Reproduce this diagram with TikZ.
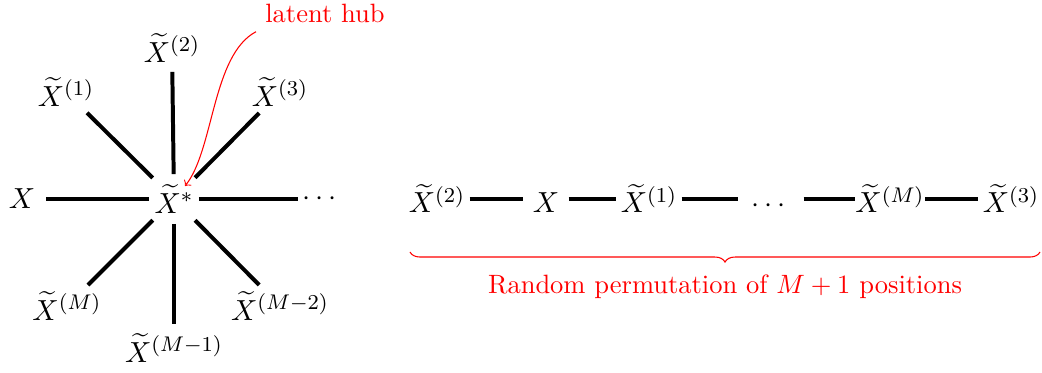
\documentclass[tikz,border=0pt]{standalone}
\usepackage{amsmath}
\usetikzlibrary{decorations.pathreplacing}
\begin{document}
\begin{tikzpicture}[x=0.3774pt,y=-0.3774pt,
  mlab/.style={font=\fontsize{11}{13}\selectfont},
  spoke/.style={line width=1.5pt, shorten <=9.4pt, shorten >=9.0pt},
  dspoke/.style={line width=1.5pt, shorten <=11.3pt, shorten >=11.2pt},
  cnode/.style={mlab, inner sep=0pt, minimum width=24.15pt, text height=10.5pt, text depth=0pt},
  clink/.style={line width=1.5pt},
  annot/.style={red}]
\useasboundingbox (0,0) rectangle (1042,373);
% star
\node[mlab] (hub) at (174,199) {$\widetilde{X}^{*}$};
\node[mlab] (l0) at (22,199) {$X$};
\node[mlab] (l1) at (66,92) {$\widetilde{X}^{(1)}$};
\node[mlab] (l2) at (172,48) {$\widetilde{X}^{(2)}$};
\node[mlab] (l3) at (280,92) {$\widetilde{X}^{(3)}$};
\node[mlab] (ld) at (322,199) {$\cdots$};
\node[mlab] (lm) at (67,306) {$\widetilde{X}^{(M)}$};
\node[mlab] (lm1) at (174,348) {$\widetilde{X}^{(M-1)}$};
\node[mlab] (lm2) at (280,306) {$\widetilde{X}^{(M-2)}$};
\draw[spoke] (hub.center) -- (l0.center);
\draw[spoke] (hub.center) -- (l2.center);
\draw[spoke] (hub.center) -- (ld.center);
\draw[spoke] (hub.center) -- (lm1.center);
\draw[dspoke] (hub.center) -- (l1.center);
\draw[dspoke] (hub.center) -- (l3.center);
\draw[dspoke] (hub.center) -- (lm.center);
\draw[dspoke] (hub.center) -- (lm2.center);
% annotation
\node[annot] (lbl) at (325,13) {latent hub};
\coordinate (hubtip) at (185,186);
\draw[annot, ->] (lbl.south west) .. controls (212,55) and (214,150) .. (hubtip);
% chain
\node[cnode] (c1) at (437,199) {$\widetilde{X}^{(2)}$};
\node[cnode, minimum width=16.6pt] (c2) at (546,199) {$X$};
\node[cnode] (c3) at (649,199) {$\widetilde{X}^{(1)}$};
\node[cnode] (c4) at (771,199) {$\cdots$};
\node[cnode] (c5) at (890,199) {$\widetilde{X}^{(M)}$};
\node[cnode] (c6) at (1011,199) {$\widetilde{X}^{(3)}$};
\draw[clink] (c1) -- (c2);
\draw[clink] (c2) -- (c3);
\draw[clink] (c3) -- (c4);
\draw[clink] (c4) -- (c5);
\draw[clink] (c5) -- (c6);
\coordinate (bl) at (410,252);
\coordinate (br) at (1040,252);
\draw[annot, decorate, decoration={brace, mirror, amplitude=3.8pt}] (bl) -- (br);
\node[annot] (perm) at (725,287) {Random permutation of $M+1$ positions};
\end{tikzpicture}
\end{document}
